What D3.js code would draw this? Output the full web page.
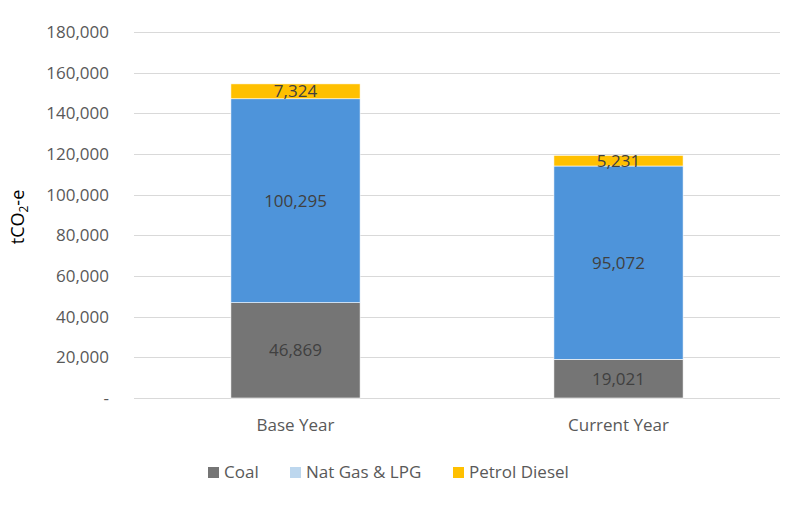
<!DOCTYPE html>
<html><head><meta charset="utf-8">
<script src="https://cdn.jsdelivr.net/npm/d3@7"></script>
<style>body{margin:0;background:#fff;} text{font-family:"Open Sans",sans-serif;}</style>
</head><body>
<svg id="c" width="795" height="514"></svg>
<script>
const categories = ["Base Year", "Current Year"];
const seriesNames = ["Coal", "Nat Gas & LPG", "Petrol Diesel"];
const coal = [46869, 19021];
const natGas = [100295, 95072];
const petrol = [7324, 5231];
const yTicks = [0, 20000, 40000, 60000, 80000, 100000, 120000, 140000, 160000, 180000];

const barColors = ["#757575", "#4e94da", "#ffc000"];
const legendColors = ["#757575", "#bdd7ee", "#ffc000"];

const svg = d3.select("#c");
const mLeft = 134, mRight = 780, mTop = 32, mBottom = 398;

const x = d3.scaleBand().domain(categories).range([mLeft, mRight]).paddingInner(0.6).paddingOuter(0.3);
const y = d3.scaleLinear().domain([0, 180000]).range([mBottom, mTop]);

const rows = categories.map((c, i) => ({cat: c, "Coal": coal[i], "Nat Gas & LPG": natGas[i], "Petrol Diesel": petrol[i]}));
const stack = d3.stack().keys(seriesNames)(rows);

// gridlines
svg.append("g").selectAll("line").data(yTicks).join("line")
  .attr("x1", mLeft).attr("x2", mRight)
  .attr("y1", d => Math.round(y(d)) + 0.5).attr("y2", d => Math.round(y(d)) + 0.5)
  .attr("stroke", "#d9d9d9").attr("stroke-width", 1);

// y tick labels
const fmt = d3.format(",");
svg.append("g").selectAll("text").data(yTicks).join("text")
  .attr("x", 109).attr("y", d => y(d)).attr("dy", "0.35em")
  .attr("text-anchor", "end").attr("fill", "#595959").attr("font-size", 17)
  .text(d => d === 0 ? "-" : fmt(d));

// bars
const g = svg.append("g");
stack.forEach((s, si) => {
  g.append("g").selectAll("rect").data(s).join("rect")
    .attr("x", d => x(d.data.cat)).attr("width", x.bandwidth())
    .attr("y", d => y(d[1])).attr("height", d => y(d[0]) - y(d[1]))
    .attr("fill", barColors[si]).attr("stroke", "#ffffff").attr("stroke-width", 0.6);
});
stack.forEach((s, si) => {
  g.append("g").selectAll("text").data(s).join("text")
    .attr("x", d => x(d.data.cat) + x.bandwidth() / 2)
    .attr("y", d => y((d[0] + d[1]) / 2)).attr("dy", "0.35em")
    .attr("text-anchor", "middle").attr("fill", "#404040").attr("font-size", 17)
    .text(d => fmt(d[1] - d[0]));
});

// x labels
svg.append("g").selectAll("text").data(categories).join("text")
  .attr("x", d => x(d) + x.bandwidth() / 2).attr("y", 425).attr("dy", "0.35em")
  .attr("text-anchor", "middle").attr("fill", "#595959").attr("font-size", 17)
  .text(d => d);

// y title
const yt = svg.append("text").attr("transform", "translate(24,217) rotate(-90)")
  .attr("text-anchor", "middle").attr("fill", "#000").attr("font-size", 18);
yt.append("tspan").text("tCO");
yt.append("tspan").attr("font-size", 12).attr("dy", 4).text("2");
yt.append("tspan").attr("dy", -4).text("-e");

// legend
const legendX = [208, 290, 453];
const lg = svg.append("g").selectAll("g").data(seriesNames).join("g")
  .attr("transform", (d, i) => `translate(${legendX[i]},472)`);
lg.append("rect").attr("x", 0).attr("y", -5).attr("width", 11).attr("height", 11)
  .attr("fill", (d, i) => legendColors[i]);
lg.append("text").attr("x", 16).attr("y", 0).attr("dy", "0.35em")
  .attr("fill", "#595959").attr("font-size", 17).text(d => d);
</script>
</body></html>
